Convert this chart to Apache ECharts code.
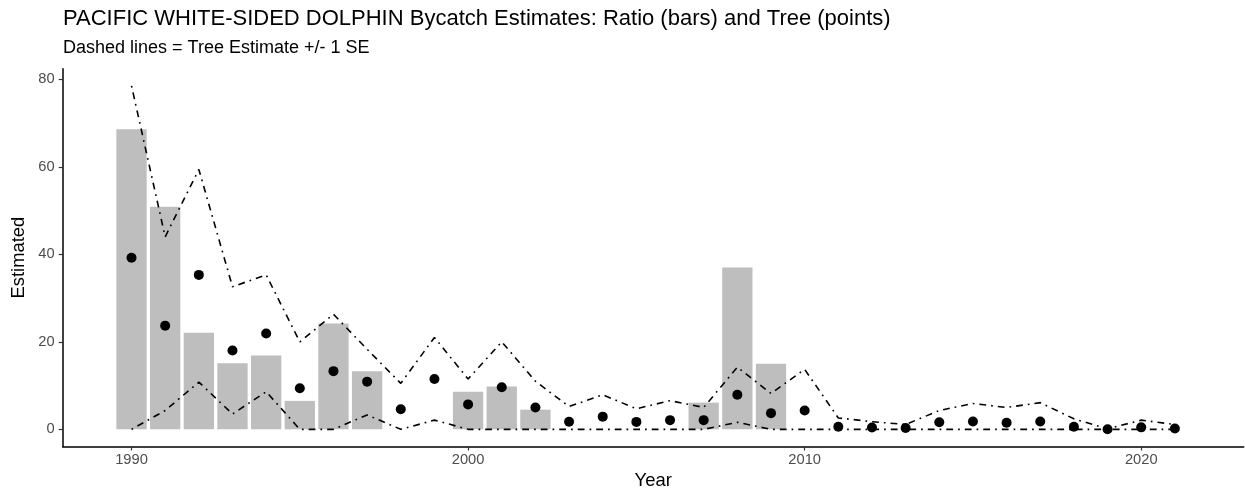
<!DOCTYPE html>
<html>
<head>
<meta charset="utf-8">
<script src="https://cdn.jsdelivr.net/npm/echarts@6/dist/echarts.min.js"></script>
<style>
html, body { margin: 0; padding: 0; background: #fff; }
#main { width: 1245px; height: 490px; }
</style>
</head>
<body>
<div id="main"></div>
<script>
// data
var years = [1990,1991,1992,1993,1994,1995,1996,1997,1998,1999,
             2000,2001,2002,2003,2004,2005,2006,2007,2008,2009,
             2010,2011,2012,2013,2014,2015,2016,2017,2018,2019,
             2020,2021];
// Ratio estimate (bars)
var ratio = [68.6,50.9,22.1,15.1,16.9,6.5,24.2,13.3,0,0,
             8.6,9.8,4.5,0,0,0,0,6.1,37.0,15.0,
             0,0,0,0,0,0,0,0,0,0,
             0,0];
// Tree estimate (points)
var tree = [39.2,23.7,35.3,18.0,21.9,9.4,13.3,10.9,4.6,11.5,
            5.7,9.6,5.0,1.75,2.9,1.7,2.1,2.1,7.9,3.7,
            4.3,0.6,0.4,0.3,1.6,1.8,1.5,1.8,0.6,0,
            0.45,0.2];
// Tree estimate +/- 1 SE
var upper = [78.5,44.0,59.4,32.6,35.3,20.0,26.3,18.3,10.5,21.0,
             11.5,20.0,11.0,5.2,7.9,4.7,6.55,5.0,14.2,8.2,
             13.7,2.6,1.75,1.1,4.3,5.9,5.0,6.1,2.4,0.1,
             2.1,1.1];
var lower = [0,4.3,10.8,3.5,8.6,0,0,3.3,0,2.1,
             0,0,0,0,0,0,0,0,1.6,0,
             0,0,0,0,0,0,0,0,0,0,
             0,0];
var xTicks = [1990,2000,2010,2020];
var yTicks = [0,20,40,60,80];

function pairs(v){
	var out = [];
	for(var i=0;i<years.length;i++){
		out.push([years[i], v[i]]);
	}
	return out;
}

var FONT = 'Liberation Sans, Arial, sans-serif';
var dotdash = [1.7,5,6.8,5];

var myChart = echarts.init(document.getElementById('main'));
var option = {
	animation: false,
	backgroundColor: '#fff',
	title: [
		{
			text: 'PACIFIC WHITE-SIDED DOLPHIN Bycatch Estimates: Ratio (bars) and Tree (points)',
			left: 63, top: 8, padding: 0,
			textStyle: {fontFamily: FONT, fontSize: 22, fontWeight: 'normal', color: '#000'}
		},
		{
			text: 'Dashed lines = Tree Estimate +/- 1 SE',
			left: 63, top: 39, padding: 0,
			textStyle: {fontFamily: FONT, fontSize: 18, fontWeight: 'normal', color: '#000'}
		}
	],
	grid: {left: 62.7, right: 1.3, top: 68.7, bottom: 43.5, outerBoundsMode: 'none', containLabel: false},
	xAxis: {
		type: 'value',
		min: 1987.955, max: 2023.045,
		name: 'Year', nameLocation: 'middle', nameGap: 25,
		nameTextStyle: {fontFamily: FONT, fontSize: 18.4, color: '#000'},
		axisLine: {onZero: false, lineStyle: {color: '#000', width: 1.5}},
		axisTick: {customValues: xTicks, length: 4, lineStyle: {color: '#333', width: 1.2}},
		axisLabel: {
			customValues: xTicks, margin: 6, fontFamily: FONT, fontSize: 14.7, color: '#4d4d4d',
			formatter: function(v){ return String(v); }
		},
		splitLine: {show: false}
	},
	yAxis: {
		type: 'value',
		min: -3.925, max: 82.43,
		name: 'Estimated', nameLocation: 'middle', nameGap: 29, nameRotate: 90,
		nameTextStyle: {fontFamily: FONT, fontSize: 18.4, color: '#000'},
		axisLine: {show: true, lineStyle: {color: '#000', width: 1.5}},
		axisTick: {show: true, customValues: yTicks, length: 4, lineStyle: {color: '#333', width: 1.2}},
		axisLabel: {
			customValues: yTicks, margin: 8, fontFamily: FONT, fontSize: 14.7, color: '#4d4d4d',
			formatter: function(v){ return String(v); }
		},
		splitLine: {show: false}
	},
	series: [
		{
			name: 'Ratio', type: 'bar',
			data: pairs(ratio),
			barWidth: 30.3,
			itemStyle: {color: '#bebebe'},
			z: 1
		},
		{
			name: 'Upper', type: 'line',
			data: pairs(upper),
			showSymbol: false, symbol: 'none',
			lineStyle: {color: '#000', width: 1.6, type: dotdash},
			z: 2
		},
		{
			name: 'Lower', type: 'line',
			data: pairs(lower),
			showSymbol: false, symbol: 'none',
			lineStyle: {color: '#000', width: 1.6, type: dotdash},
			z: 2
		},
		{
			name: 'Tree', type: 'scatter',
			data: pairs(tree),
			symbol: 'circle', symbolSize: 10,
			itemStyle: {color: '#000', opacity: 1},
			z: 3
		}
	]
};
myChart.setOption(option);
</script>
</body>
</html>
